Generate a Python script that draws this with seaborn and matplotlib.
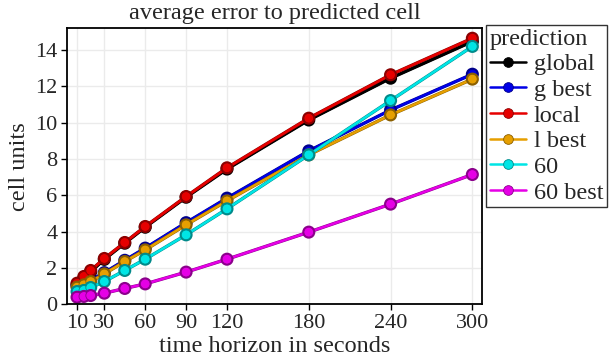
import matplotlib.pyplot as plt
import matplotlib.patheffects as pe
import matplotlib.colors as mcolors
import pandas as pd
import seaborn as sns

# data
horizon = [10, 15, 20, 30, 45, 60, 90, 120, 180, 240, 300]
series_names = ["global", "g best", "local", "l best", "60", "60 best"]
err_global = [1.10, 1.45, 1.80, 2.48, 3.37, 4.25, 5.90, 7.45, 10.15, 12.45, 14.47]
err_g_best = [1.02, 1.15, 1.33, 1.75, 2.43, 3.10, 4.50, 5.85, 8.45, 10.70, 12.67]
err_local = [1.17, 1.54, 1.87, 2.53, 3.41, 4.29, 5.94, 7.52, 10.25, 12.64, 14.65]
err_l_best = [0.95, 1.08, 1.26, 1.68, 2.36, 3.00, 4.38, 5.70, 8.23, 10.43, 12.40]
err_60 = [0.71, 0.77, 0.93, 1.26, 1.87, 2.49, 3.83, 5.26, 8.23, 11.22, 14.20]
err_60_best = [0.40, 0.44, 0.49, 0.62, 0.88, 1.13, 1.78, 2.49, 3.98, 5.52, 7.15]
x_ticks = [10, 30, 60, 90, 120, 180, 240, 300]
y_ticks = [0, 2, 4, 6, 8, 10, 12, 14]

colors = ["#000000", "#0000e6", "#e60000", "#e69f00", "#00e5e5", "#e600e6"]

all_err = [err_global, err_g_best, err_local, err_l_best, err_60, err_60_best]
df = pd.concat([pd.DataFrame({"horizon": horizon, "error": e, "prediction": n})
                for n, e in zip(series_names, all_err)], ignore_index=True)

sns.set_style("white")
plt.rcParams['font.family'] = ['Liberation Serif', 'DejaVu Serif']
plt.rcParams['font.size'] = 16

fig = plt.figure(figsize=(6.1, 3.62), dpi=100)
ax = fig.add_axes([0.110, 0.159, 0.680, 0.763])

palette = dict(zip(series_names, colors))
sns.lineplot(data=df, x="horizon", y="error", hue="prediction", hue_order=series_names,
             palette=palette, marker="o", markersize=7, linewidth=1.8, ax=ax, legend=False)


def darker(c):
  return tuple(v * 0.6 for v in mcolors.to_rgb(c))


for line, c in zip(ax.lines, colors):
  line.set_markeredgecolor(darker(c))
  line.set_markeredgewidth(0.6)
  line.set_path_effects([pe.Stroke(linewidth=2.4, foreground=darker(c)), pe.Normal()])

ax.set_xlim(2.7, 307)
ax.set_ylim(0, 15.2)
ax.set_xticks(x_ticks)
ax.set_yticks(y_ticks)
ax.grid(True, color="#ebebeb", linewidth=1)
ax.set_axisbelow(True)
for s in ax.spines.values():
  s.set_color("black")
  s.set_linewidth(1.3)
ax.tick_params(axis="both", direction="out", length=4, width=1, color="black",
               labelsize=16, pad=3, bottom=True, left=True)

ax.set_title("average error to predicted cell", fontsize=17.5, pad=6.5)
ax.set_xlabel("time horizon in seconds", fontsize=17.5, labelpad=2)
ax.set_ylabel("cell units", fontsize=17.5, labelpad=4)

handles = []
for n, c in zip(series_names, colors):
  h, = ax.plot([], [], color=c, marker="o", markersize=7, linewidth=1.8,
               markeredgecolor=darker(c), markeredgewidth=0.6, label=n)
  handles.append(h)

leg = fig.legend(handles=handles, title="prediction", loc="upper left",
                 bbox_to_anchor=(0.797, 0.931), bbox_transform=fig.transFigure,
                 fontsize=17.5, title_fontsize=17.5, frameon=True, fancybox=False,
                 borderaxespad=0, borderpad=0.15, handlelength=1.5, handletextpad=0.3,
                 labelspacing=0.15)
leg.get_frame().set_edgecolor("black")
leg.get_frame().set_linewidth(1.0)
leg._legend_box.align = "left"

fig.savefig("out.png", dpi=100)
